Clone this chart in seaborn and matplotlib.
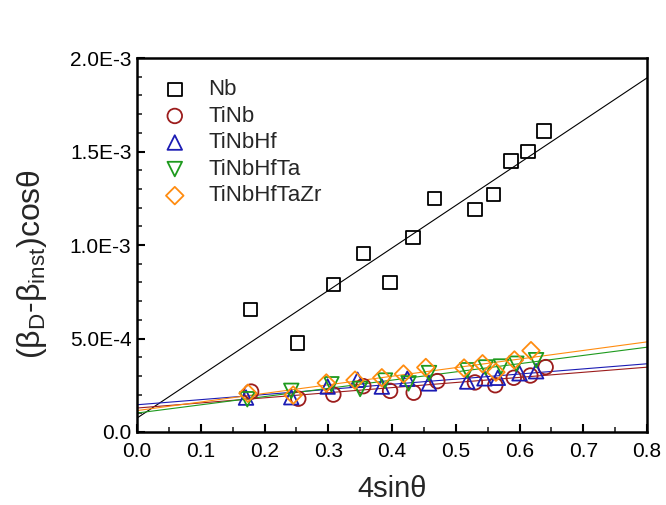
import numpy as np
import pandas as pd
import matplotlib
matplotlib.use("Agg")
import matplotlib.pyplot as plt
from matplotlib.ticker import MultipleLocator, FuncFormatter
import seaborn as sns

# ---- data ----
names = ["Nb", "TiNb", "TiNbHf", "TiNbHfTa", "TiNbHfTaZr"]

nb_x = [0.178, 0.252, 0.308, 0.355, 0.397, 0.433, 0.467, 0.530, 0.559, 0.587, 0.613, 0.638]
nb_y = [6.55e-4, 4.75e-4, 7.9e-4, 9.55e-4, 8.0e-4, 10.4e-4, 12.5e-4, 11.9e-4, 12.7e-4, 14.5e-4, 15.0e-4, 16.1e-4]

tinb_x = [0.179, 0.253, 0.308, 0.355, 0.397, 0.434, 0.471, 0.530, 0.562, 0.591, 0.617, 0.641]
tinb_y = [2.16e-4, 1.78e-4, 2.0e-4, 2.45e-4, 2.2e-4, 2.1e-4, 2.72e-4, 2.65e-4, 2.5e-4, 2.9e-4, 3.02e-4, 3.47e-4]

tinbhf_x = [0.171, 0.242, 0.299, 0.346, 0.384, 0.424, 0.458, 0.518, 0.545, 0.566, 0.600, 0.626]
tinbhf_y = [1.84e-4, 1.86e-4, 2.43e-4, 2.79e-4, 2.43e-4, 2.85e-4, 2.6e-4, 2.7e-4, 2.87e-4, 2.9e-4, 3.14e-4, 3.25e-4]

tinbhfta_x = [0.173, 0.242, 0.305, 0.350, 0.389, 0.426, 0.458, 0.518, 0.547, 0.571, 0.595, 0.626]
tinbhfta_y = [1.75e-4, 2.2e-4, 2.55e-4, 2.3e-4, 2.75e-4, 2.6e-4, 3.15e-4, 3.3e-4, 3.45e-4, 3.5e-4, 3.65e-4, 3.84e-4]

tinbhftazr_x = [0.174, 0.245, 0.297, 0.342, 0.384, 0.418, 0.453, 0.513, 0.542, 0.563, 0.592, 0.618]
tinbhftazr_y = [2.07e-4, 1.97e-4, 2.62e-4, 2.77e-4, 2.9e-4, 3.1e-4, 3.45e-4, 3.42e-4, 3.65e-4, 3.2e-4, 3.85e-4, 4.35e-4]

xs = [nb_x, tinb_x, tinbhf_x, tinbhfta_x, tinbhftazr_x]
ys = [nb_y, tinb_y, tinbhf_y, tinbhfta_y, tinbhftazr_y]

colors = ["#000000", "#9c1c1c", "#1c1cb4", "#1e9a1e", "#ff8c10"]
markers = ["s", "o", "^", "v", "D"]
sizes = [95, 110, 110, 110, 80]

sns.set_theme(style="white")
plt.rcParams["font.family"] = ["Liberation Sans", "DejaVu Sans"]
plt.rcParams["mathtext.fontset"] = "custom"
plt.rcParams["mathtext.rm"] = "Liberation Sans"
plt.rcParams["mathtext.it"] = "Liberation Sans:italic"

fig = plt.figure(figsize=(6.66, 5.05), dpi=100)
ax = fig.add_axes([0.2057, 0.1446, 0.7658, 0.7404])
ax.set_xlim(0, 0.8)
ax.set_ylim(0, 2.0e-3)

for name, x, y, c, m, s in zip(names, xs, ys, colors, markers, sizes):
    df = pd.DataFrame({"x": x, "y": y})
    sns.regplot(data=df, x="x", y="y", ax=ax, scatter=False, ci=None,
                truncate=False, color=c, line_kws={"lw": 0.8})
for name, x, y, c, m, s in zip(names, xs, ys, colors, markers, sizes):
    df = pd.DataFrame({"x": x, "y": y})
    sns.scatterplot(data=df, x="x", y="y", ax=ax, marker=m, s=s,
                    color=c, facecolor="none", edgecolor=c, linewidth=1.3,
                    label=name, zorder=3)

ax.set_xlim(0, 0.8)
ax.set_ylim(0, 2.0e-3)

ax.xaxis.set_major_locator(MultipleLocator(0.1))
ax.xaxis.set_minor_locator(MultipleLocator(0.05))
ax.yaxis.set_major_locator(MultipleLocator(5e-4))
ax.yaxis.set_minor_locator(MultipleLocator(1e-4))


def yfmt(v, pos):
    if abs(v) < 1e-12:
        return "0.0"
    s = f"{v:.1E}"
    return s.replace("E-0", "E-").replace("E+0", "E")


ax.yaxis.set_major_formatter(FuncFormatter(yfmt))
ax.xaxis.set_major_formatter(FuncFormatter(lambda v, p: f"{v:.1f}"))

ax.tick_params(axis="both", which="major", direction="in", length=6, width=1.5,
               labelsize=15, colors="black")
ax.tick_params(axis="x", which="major", pad=7)
ax.tick_params(axis="y", which="major", pad=4)
ax.tick_params(axis="both", which="minor", direction="in", length=3.5, width=1.2)
ax.tick_params(bottom=True, left=True, top=False, right=False, which="both")
for sp in ax.spines.values():
    sp.set_linewidth(1.8)
    sp.set_color("black")

ax.set_xlabel("4sinθ", fontsize=21, labelpad=10)
ax.set_ylabel(r"(β$_\mathrm{D}$-β$_\mathrm{inst}$)cosθ", fontsize=23, labelpad=4)
ax.yaxis.set_label_coords(-0.172, 0.45)

leg = ax.legend(loc="upper left", bbox_to_anchor=(0.0, 0.985), frameon=False,
                fontsize=16, handletextpad=0.5, labelspacing=0.25,
                borderaxespad=0.3)

fig.savefig("out.png", dpi=100)
